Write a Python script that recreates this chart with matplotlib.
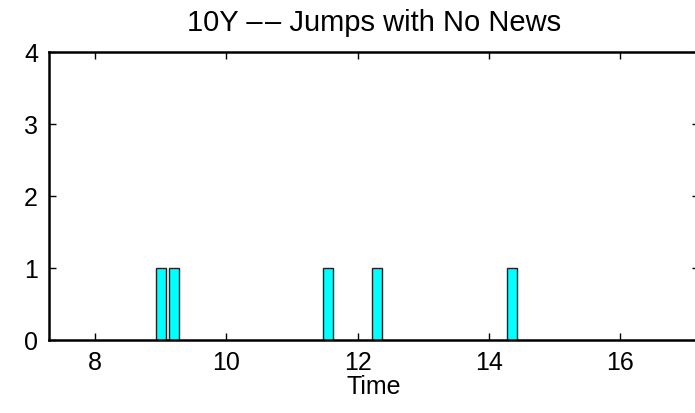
import matplotlib
matplotlib.use("Agg")
import matplotlib.pyplot as plt

# jump counts per time bin (only non-empty bins)
jump_times = [9.0, 9.2, 11.55, 12.3, 14.35]
jump_counts = [1, 1, 1, 1, 1]
bin_width = 0.15

xticks = [8, 10, 12, 14, 16]
yticks = [0, 1, 2, 3, 4]

plt.rcParams["font.family"] = ["Liberation Sans", "DejaVu Sans"]

fig = plt.figure(figsize=(6.95, 4.13), dpi=100)
ax = fig.add_axes([49 / 695, 73 / 413, 650 / 695, 288 / 413])

ax.bar(jump_times, jump_counts, width=bin_width, color="#00ffff",
       edgecolor="#222222", linewidth=1.0)

ax.set_xlim(7.3, 17.2)
ax.set_ylim(0, 4)
ax.set_xticks(xticks)
ax.set_yticks(yticks)
ax.tick_params(direction="in", length=5, width=1, top=True, right=True,
               labelsize=18, pad=8)
for s in ax.spines.values():
    s.set_linewidth(1.8)

ax.set_xlabel("Time", fontsize=18, labelpad=0)
ax.set_title("10Y \u2013\u200a\u2013 Jumps with No News", fontsize=21, pad=15)

fig.savefig("out.png", dpi=100)
